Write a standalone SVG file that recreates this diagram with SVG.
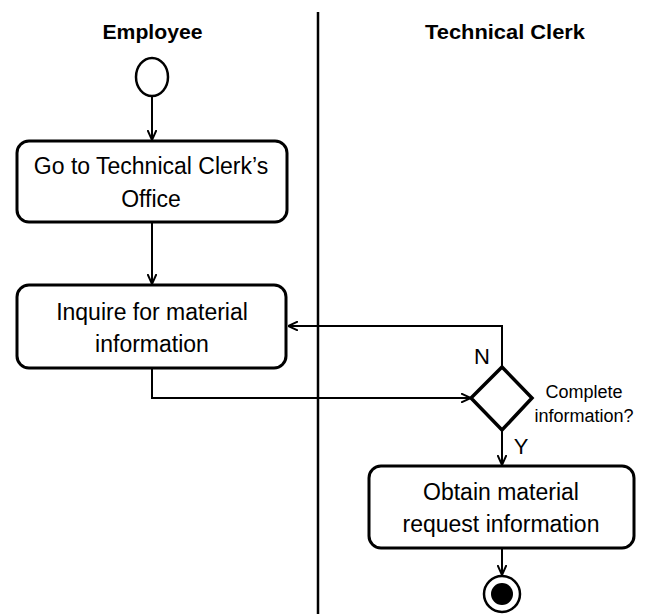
<svg xmlns="http://www.w3.org/2000/svg" width="647" height="614" viewBox="0 0 647 614">
<style>
.box{fill:#fff;stroke:#000;stroke-width:3}
.ln{fill:none;stroke:#000;stroke-width:2}
.t{font-family:"Liberation Sans",Arial,sans-serif;font-size:23px;text-anchor:middle;fill:#000}
.h{font-family:"Liberation Sans",Arial,sans-serif;font-size:20px;font-weight:bold;text-anchor:middle;fill:#000}
.s{font-family:"Liberation Sans",Arial,sans-serif;font-size:18px;text-anchor:middle;fill:#000}
.l{font-family:"Liberation Sans",Arial,sans-serif;font-size:22px;text-anchor:middle;fill:#000}
</style>
<defs>
<marker id="arr" viewBox="0 0 10 10" refX="10" refY="5" markerWidth="10" markerHeight="10" markerUnits="userSpaceOnUse" orient="auto">
<path d="M0,0.5 L10,5 L0,9.5" fill="none" stroke="#000" stroke-width="2"/>
</marker>
</defs>
<rect width="647" height="614" fill="#fff"/>
<g id="lanes">
<line x1="318" y1="12" x2="318" y2="614" stroke="#000" stroke-width="2.5"/>
<text class="h" x="152.5" y="39" textLength="100" lengthAdjust="spacingAndGlyphs">Employee</text>
<text class="h" x="505" y="39" textLength="160" lengthAdjust="spacingAndGlyphs">Technical Clerk</text>
</g>
<g id="connectors">
<line class="ln" x1="152" y1="96" x2="152" y2="140" marker-end="url(#arr)"/>
<line class="ln" x1="152" y1="222" x2="152" y2="284" marker-end="url(#arr)"/>
<polyline class="ln" points="152,368 152,398 471,398" marker-end="url(#arr)"/>
<polyline class="ln" points="502,367 502,326 288,326" marker-end="url(#arr)"/>
<line class="ln" x1="502" y1="430" x2="502" y2="465" marker-end="url(#arr)"/>
<line class="ln" x1="502" y1="549" x2="502" y2="575" marker-end="url(#arr)"/>
<text class="l" x="482" y="364">N</text>
<text class="l" x="521" y="454">Y</text>
</g>
<g id="start">
<ellipse cx="152" cy="77" rx="16" ry="19" fill="#fff" stroke="#000" stroke-width="2.5"/>
</g>
<g id="go">
<rect class="box" x="17" y="141" width="270" height="81" rx="12"/>
<text class="t" x="151" y="174">Go to Technical Clerk’s</text>
<text class="t" x="151" y="207">Office</text>
</g>
<g id="inquire">
<rect class="box" x="17" y="285" width="269" height="83" rx="12"/>
<text class="t" x="152" y="320">Inquire for material</text>
<text class="t" x="152" y="352">information</text>
</g>
<g id="decision">
<polygon class="box" points="502,367 532,398 502,430 471,398" style="stroke-width:3.5"/>
<text class="s" x="584" y="398">Complete</text>
<text class="s" x="584" y="422">information?</text>
</g>
<g id="obtain">
<rect class="box" x="369" y="466" width="265" height="82" rx="12"/>
<text class="t" x="501" y="500">Obtain material</text>
<text class="t" x="501" y="532">request information</text>
</g>
<g id="end">
<circle cx="502" cy="594" r="18" fill="#fff" stroke="#000" stroke-width="2.5"/>
<circle cx="502" cy="594" r="11" fill="#000"/>
</g>
</svg>
